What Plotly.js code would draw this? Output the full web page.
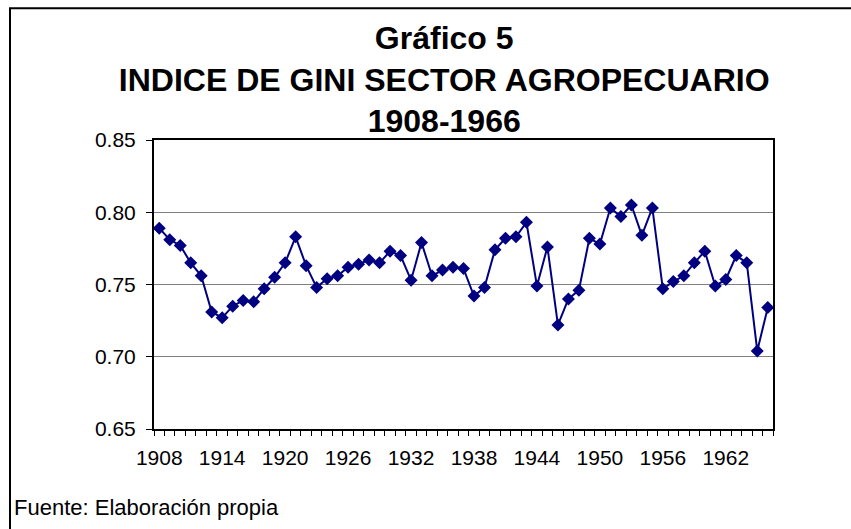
<!DOCTYPE html>
<html>
<head>
<meta charset="utf-8">
<script src="https://cdn.plot.ly/plotly-3.0.1.min.js"></script>
<style>
  html, body { margin: 0; padding: 0; background: #ffffff; }
  #chart { width: 851px; height: 529px; }
</style>
</head>
<body>
<div id="chart"></div>
<script>
// Years (categories)
var years = [1908, 1909, 1910, 1911, 1912, 1913, 1914, 1915, 1916, 1917,
             1918, 1919, 1920, 1921, 1922, 1923, 1924, 1925, 1926, 1927,
             1928, 1929, 1930, 1931, 1932, 1933, 1934, 1935, 1936, 1937,
             1938, 1939, 1940, 1941, 1942, 1943, 1944, 1945, 1946, 1947,
             1948, 1949, 1950, 1951, 1952, 1953, 1954, 1955, 1956, 1957,
             1958, 1959, 1960, 1961, 1962, 1963, 1964, 1965, 1966];

// Gini index, agricultural sector
var gini = [0.789, 0.781, 0.777, 0.765, 0.756, 0.731, 0.727, 0.735, 0.739, 0.738,
            0.747, 0.755, 0.765, 0.783, 0.763, 0.748, 0.754, 0.756, 0.762, 0.764,
            0.767, 0.765, 0.773, 0.770, 0.753, 0.779, 0.756, 0.760, 0.762, 0.761,
            0.742, 0.748, 0.774, 0.782, 0.783, 0.793, 0.749, 0.776, 0.722, 0.740,
            0.746, 0.782, 0.778, 0.803, 0.797, 0.805, 0.784, 0.803, 0.747, 0.752,
            0.756, 0.765, 0.773, 0.749, 0.7535, 0.770, 0.765, 0.704, 0.734];

// Axis tick labels
var xTickVals = [1908, 1914, 1920, 1926, 1932, 1938, 1944, 1950, 1956, 1962];
var xTickText = ["1908", "1914", "1920", "1926", "1932", "1938", "1944", "1950", "1956", "1962"];
var yTickVals = [0.65, 0.70, 0.75, 0.80, 0.85];
var yTickText = ["0.65", "0.70", "0.75", "0.80", "0.85"];

var titleText = "Gráfico 5<br>INDICE DE GINI SECTOR AGROPECUARIO<br>1908-1966";
var sourceText = "Fuente: Elaboración propia";

var FONT = "Liberation Sans, Arial, sans-serif";

var trace = {
  x: years,
  y: gini,
  type: "scatter",
  mode: "lines+markers",
  line: { color: "#000080", width: 2 },
  marker: { symbol: "diamond", size: 10, color: "#000080", line: { width: 0 } },
  hoverinfo: "x+y",
  showlegend: false
};

var layout = {
  width: 851,
  height: 529,
  margin: { l: 154, r: 78, t: 140, b: 100, pad: 0 },
  paper_bgcolor: "#ffffff",
  plot_bgcolor: "#ffffff",
  font: { family: FONT, color: "#000000", size: 21 },
  title: {
    text: titleText,
    font: { family: FONT, size: 32, color: "#000000", weight: "bold" },
    xref: "container",
    yref: "container",
    x: 0.522,
    xanchor: "center",
    y: 1 - 49 / 529,
    yanchor: "middle"
  },
  xaxis: {
    range: [1907.5, 1966.5],
    tickmode: "array",
    tickvals: xTickVals,
    ticktext: xTickText,
    ticks: "outside",
    ticklen: 9,
    tickcolor: "rgba(0,0,0,0)",
    tickfont: { family: FONT, size: 21, color: "#000000" },
    showgrid: false,
    zeroline: false,
    showline: true,
    mirror: true,
    linecolor: "#000000",
    linewidth: 2,
    minor: {
      tickmode: "linear",
      tick0: 1907.5,
      dtick: 1,
      ticks: "outside",
      ticklen: 5,
      tickcolor: "#000000",
      tickwidth: 1,
      showgrid: false
    }
  },
  yaxis: {
    range: [0.65, 0.85],
    tickmode: "array",
    tickvals: yTickVals,
    ticktext: yTickText,
    ticks: "outside",
    ticklen: 6,
    tickwidth: 1,
    tickcolor: "#000000",
    ticklabelstandoff: 6,
    tickfont: { family: FONT, size: 21, color: "#000000" },
    showgrid: true,
    gridcolor: "#808080",
    gridwidth: 1,
    zeroline: false,
    showline: true,
    mirror: true,
    linecolor: "#000000",
    linewidth: 2
  },
  shapes: [
    {
      type: "rect",
      xref: "paper",
      yref: "paper",
      x0: (10 - 154) / 619,
      x1: 1.3,
      y0: -0.6,
      y1: (429.5 - 8) / 289.5,
      line: { color: "#000000", width: 2 },
      fillcolor: "rgba(0,0,0,0)",
      layer: "below"
    }
  ],
  annotations: [
    {
      text: sourceText,
      xref: "paper",
      yref: "paper",
      x: (12 - 154) / 619,
      y: (429.5 - 508) / 289.5,
      xanchor: "left",
      yanchor: "middle",
      showarrow: false,
      font: { family: FONT, size: 22, color: "#000000" }
    }
  ]
};

Plotly.newPlot("chart", [trace], layout, { staticPlot: true, displayModeBar: false });
</script>
</body>
</html>
